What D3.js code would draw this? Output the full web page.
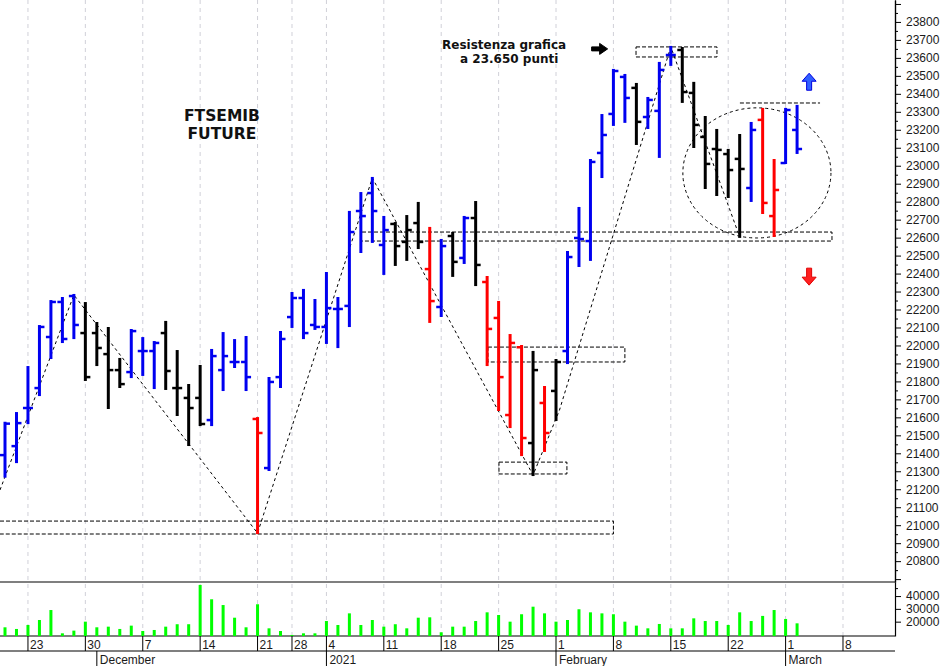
<!DOCTYPE html>
<html><head><meta charset="utf-8">
<script src="https://cdn.jsdelivr.net/npm/d3@7"></script>
<style>body{margin:0;background:#fff}svg{display:block}</style>
</head><body>
<svg id="c" width="943" height="666"></svg>
<script>
// ---------- DATA ----------
const dates = ["2020-11-19","2020-11-20","2020-11-23","2020-11-24","2020-11-25","2020-11-26","2020-11-27",
"2020-11-30","2020-12-01","2020-12-02","2020-12-03","2020-12-04","2020-12-07","2020-12-08","2020-12-09","2020-12-10","2020-12-11",
"2020-12-14","2020-12-15","2020-12-16","2020-12-17","2020-12-18","2020-12-21","2020-12-22","2020-12-23",
"2020-12-28","2020-12-29","2020-12-30","2021-01-04","2021-01-05","2021-01-06","2021-01-07","2021-01-08",
"2021-01-11","2021-01-12","2021-01-13","2021-01-14","2021-01-15","2021-01-18","2021-01-19","2021-01-20","2021-01-21","2021-01-22",
"2021-01-25","2021-01-26","2021-01-27","2021-01-28","2021-01-29","2021-02-01","2021-02-02","2021-02-03","2021-02-04","2021-02-05",
"2021-02-08","2021-02-09","2021-02-10","2021-02-11","2021-02-12","2021-02-15","2021-02-16","2021-02-17","2021-02-18","2021-02-19",
"2021-02-22","2021-02-23","2021-02-24","2021-02-25","2021-02-26","2021-03-01","2021-03-02"];
const futureDates = ["2021-03-03","2021-03-04","2021-03-05","2021-03-08","2021-03-09","2021-03-10","2021-03-11"];

const open  = [21390,21440,21652,21763,22047,22242,22275,22069,22069,21952,21863,21852,21969,21969,22069,21763,21708,21708,21585,21863,
21908,21908,21591,21318,21824,22158,22264,22114,22103,22203,22220,22748,22848,22559,22676,22576,22681,22425,22214,22609,
22487,22709,22353,22153,21613,21990,21457,21680,21747,21969,22598,22581,23071,23288,23494,23433,23271,23305,23616,23644,
23405,23160,23093,23065,23038,22876,23255,22720,23015,23199];
const high  = [21570,21624,21880,22108,22247,22264,22281,22236,22125,22097,21925,22086,22041,22019,22131,21969,21780,21886,21975,22069,
22030,22047,21596,21819,22075,22292,22309,22253,22403,22264,22743,22848,22932,22715,22681,22720,22793,22654,22587,22626,
22715,22798,22381,22242,22058,21997,21964,21769,21919,22520,22765,23032,23282,23533,23505,23455,23377,23572,23661,23655,
23461,23271,23199,23088,23171,23238,23316,23032,23316,23333];
const low   = [21270,21351,21568,21724,21930,22019,22041,21808,21891,21652,21769,21824,21836,21763,21758,21613,21446,21557,21557,21752,
21880,21752,20956,21307,21769,22103,22041,22092,22014,21991,22108,22520,22576,22398,22448,22476,22542,22131,22164,22387,
22459,22336,21891,21641,21546,21390,21279,21413,21585,21902,22442,22476,22937,23227,23244,23121,23210,23049,23561,23355,
23104,22876,22837,22826,22604,22804,22737,22609,23015,23071];
const close = [21565,21568,21652,22103,22242,22036,22114,21824,21986,21863,21785,22080,21969,22014,21858,21763,21652,21563,21941,21941,
21908,21824,21513,21797,22036,22264,22069,22103,22208,22203,22631,22720,22748,22642,22553,22642,22576,22247,22553,22465,
22709,22448,22092,21824,22014,21485,21863,21513,21908,22492,22592,23021,23171,23527,23377,23244,23366,23533,23616,23410,
23227,23010,23088,22976,22982,23199,22793,22865,23310,23093];
// b = blue, k = black, r = red
const barColor = ["b","b","b","b","b","b","b","k","k","k","k","b","b","b","k","k","k","k","b","b",
"b","b","r","b","b","b","b","b","b","b","b","b","b","b","k","k","k","r","b","k",
"b","k","r","r","r","r","k","r","k","b","b","b","b","b","b","k","b","b","b","k",
"k","k","k","k","k","b","r","r","b","b"];
const volume = [15600,14300,17400,21300,29100,10900,13000,20000,15600,16100,14300,16900,12700,13500,16100,18000,18000,48700,37500,33000,
23100,15600,33600,14800,12700,9600,10900,10900,20500,17400,26500,17400,21300,16100,18000,14800,23100,23400,11700,16100,
16100,20500,27300,25200,20000,25800,31700,26500,20000,21300,29700,27300,26500,25800,20000,16900,14800,18200,14800,14800,
22600,20500,20500,17400,27300,20500,24500,29100,22100,18700];

const weekTicks  = ["2020-11-23","2020-11-30","2020-12-07","2020-12-14","2020-12-21","2020-12-28","2021-01-04","2021-01-11",
"2021-01-18","2021-01-25","2021-02-01","2021-02-08","2021-02-15","2021-02-22","2021-03-01","2021-03-08"];
const weekLabels = ["23","30","7","14","21","28","4","11","18","25","1","8","15","22","1","8"];
const monthTicks  = ["2020-12-01","2021-01-04","2021-02-01","2021-03-01"];
const monthLabels = ["December","2021","February","March"];
const priceLabels = d3.range(20800, 23801, 100);
const volLabels = [20000, 30000, 40000];

// annotations (index, value)
const trendA = [[-0.4355,21196],[6,22281],[22,20956],[32,22932],[46,21279],[48.3,21640],[58,23661],[64,22604]];
const boxes = [ // [i0, i1, vLow, vHigh, leftEdge]
  [-0.4355, 53.0, 20951, 21023, false],
  [31.1, 72.04, 22581, 22631, false],
  [42.07, 54.0, 21908, 21991, true],
  [43.03, 48.95, 21285, 21351, true],
  [54.97, 62.02, 23605, 23661, true]
];
const resistLine = [64.02, 71.0, 23349];
const ellipse = {ci: 65.5, cv: 22960, ri: 6.45, rv: 362};

// ---------- SCALES ----------
const allDates = dates.concat(futureDates);
const idx = d => allDates.indexOf(d);
const RIGHT = 895;
const x  = d3.scaleLinear().domain([-0.4355, 77.53]).range([0, RIGHT]);
const yP = d3.scaleLinear().domain([20684, 23922]).range([582, 0]);
const yV = d3.scaleLinear().domain([8800, 51000]).range([636, 582]);
const colMap = {b:"#0000f0", k:"#000000", r:"#ff0000"};

const svg = d3.select("#c");
svg.append("rect").attr("width",943).attr("height",666).attr("fill","#fff");

// gridlines
svg.append("g").selectAll("line").data(weekTicks).join("line")
  .attr("x1",d=>x(idx(d))).attr("x2",d=>x(idx(d)))
  .attr("y1",0).attr("y2",636)
  .attr("stroke","#d0d0d8").attr("stroke-dasharray","4,4");

// panel lines
[582, 636, 651].forEach(v=>{
  svg.append("line").attr("x1",0).attr("x2",RIGHT).attr("y1",v).attr("y2",v)
    .attr("stroke","#000").attr("stroke-width",1.2);
});

// volume bars
svg.append("g").selectAll("rect").data(volume).join("rect")
  .attr("x",(d,i)=>x(i)-1.5).attr("width",3)
  .attr("y",d=>yV(d)).attr("height",d=>636-yV(d))
  .attr("fill","#00ff00");

// dashed boxes
const gA = svg.append("g").attr("fill","none").attr("stroke","#000").attr("stroke-width",1).attr("stroke-dasharray","4,2");
boxes.forEach(b=>{
  const x0=x(b[0]), x1=x(b[1]), yt=yP(b[3]), yb=yP(b[2]);
  const p = b[4] ? `M${x0},${yt}H${x1}V${yb}H${x0}Z` : `M${x0},${yt}H${x1}V${yb}H${x0}`;
  gA.append("path").attr("d",p);
});
gA.append("line").attr("x1",x(resistLine[0])).attr("x2",x(resistLine[1]))
  .attr("y1",yP(resistLine[2])).attr("y2",yP(resistLine[2]));
gA.append("ellipse").attr("cx",x(ellipse.ci)).attr("cy",yP(ellipse.cv))
  .attr("rx",x(ellipse.ci+ellipse.ri)-x(ellipse.ci)).attr("ry",yP(ellipse.cv-ellipse.rv)-yP(ellipse.cv))
  .attr("stroke-dasharray","3,3");

// trend lines
svg.append("path").datum(trendA)
  .attr("d",d3.line().x(d=>x(d[0])).y(d=>yP(d[1])))
  .attr("fill","none").attr("stroke","#000").attr("stroke-width",1).attr("stroke-dasharray","3,3");

// OHLC bars
const gB = svg.append("g");
dates.forEach((d,i)=>{
  const c = colMap[barColor[i]], cx = x(i);
  gB.append("line").attr("x1",cx).attr("x2",cx).attr("y1",yP(high[i])-1).attr("y2",yP(low[i])+1)
    .attr("stroke",c).attr("stroke-width",3);
  gB.append("line").attr("x1",cx-5).attr("x2",cx).attr("y1",yP(open[i])).attr("y2",yP(open[i]))
    .attr("stroke",c).attr("stroke-width",2.5);
  gB.append("line").attr("x1",cx).attr("x2",cx+5).attr("y1",yP(close[i])).attr("y2",yP(close[i]))
    .attr("stroke",c).attr("stroke-width",2.5);
});

// price axis
const axFont = "'Liberation Sans', Arial, sans-serif";
const axP = svg.append("g").attr("transform",`translate(${RIGHT},0)`)
  .call(d3.axisRight(yP).tickValues(d3.range(20700,23901,100)).tickSize(6).tickSizeOuter(0).tickPadding(5)
    .tickFormat(d=> priceLabels.includes(d) ? d : ""));
svg.append("g").attr("transform",`translate(${RIGHT},0)`)
  .call(d3.axisRight(yP).tickValues(d3.range(20650,23951,100)).tickSize(3).tickSizeOuter(0).tickFormat(""));
const axV = svg.append("g").attr("transform",`translate(${RIGHT},0)`)
  .call(d3.axisRight(yV).tickValues(volLabels).tickSize(6).tickSizeOuter(0).tickPadding(5).tickFormat(d=>d));
svg.selectAll(".domain").attr("stroke","#000").attr("stroke-width",1.2);
svg.selectAll(".tick line").attr("stroke","#000");
svg.selectAll(".tick text").attr("font-family",axFont).attr("font-size","12px").attr("fill","#1a1a1a");
svg.selectAll("g").attr("font-family",null);

// date axis
const gD = svg.append("g").attr("font-family",axFont).attr("font-size","12px").attr("fill","#1a1a1a");
weekTicks.forEach((d,k)=>{
  const xx = x(idx(d));
  gD.append("line").attr("x1",xx).attr("x2",xx).attr("y1",636).attr("y2",651).attr("stroke","#000");
  gD.append("text").attr("x",xx+2).attr("y",648.5).text(weekLabels[k]);
});
monthTicks.forEach((d,k)=>{
  const xx = x(idx(d));
  gD.append("line").attr("x1",xx).attr("x2",xx).attr("y1",651).attr("y2",666).attr("stroke","#000");
  gD.append("text").attr("x",xx+3).attr("y",664).text(monthLabels[k]);
});

// titles / annotations
const tFont = "'DejaVu Sans', Verdana, sans-serif";
const gT = svg.append("g").attr("font-family",tFont).attr("font-weight","bold").attr("fill","#111");
gT.append("text").attr("x",x(18.9)).attr("y",yP(23249)).attr("text-anchor","middle").attr("font-size","15.5px").text("FTSEMIB");
gT.append("text").attr("x",x(18.9)).attr("y",yP(23149)).attr("text-anchor","middle").attr("font-size","15.5px").text("FUTURE");
gT.append("text").attr("x",x(38.07)).attr("y",yP(23650)).attr("font-size","12px").text("Resistenza grafica");
gT.append("text").attr("x",x(39.64)).attr("y",yP(23572)).attr("font-size","12px").text("a 23.650 punti");

// arrows
function arrow(cx, cy, dir, fill, stroke){
  // dir: 'right','up','down'
  let p;
  if(dir==="right") p = `M${cx-8},${cy-2}H${cx}V${cy-5.5}L${cx+8},${cy}L${cx},${cy+5.5}V${cy+2}H${cx-8}Z`;
  if(dir==="up")    p = `M${cx-2.5},${cy+9}V${cy}H${cx-7}L${cx},${cy-8}L${cx+7},${cy}H${cx+2.5}V${cy+9}Z`;
  if(dir==="down")  p = `M${cx-2.5},${cy-9}V${cy}H${cx-7}L${cx},${cy+8}L${cx+7},${cy}H${cx+2.5}V${cy-9}Z`;
  svg.append("path").attr("d",p).attr("fill",fill).attr("stroke",stroke).attr("stroke-width",1);
}
arrow(x(51.8), yP(23650), "right", "#000", "#000");
arrow(x(70.05), yP(23470), "up", "#3060ff", "#0000e0");
arrow(x(70.05), yP(22380), "down", "#ff2020", "#e00000");
</script>
</body></html>
